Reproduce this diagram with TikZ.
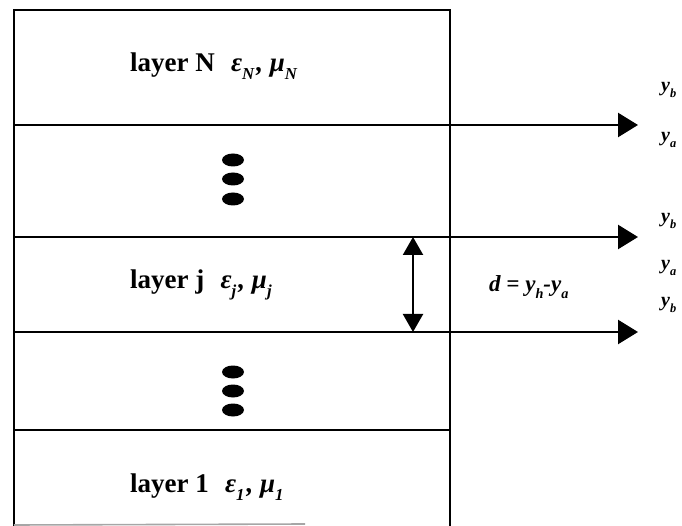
\documentclass[tikz,border=0pt]{standalone}
\usepackage{fontspec}
\setmainfont{Liberation Serif}
\usetikzlibrary{arrows.meta,shapes.geometric}
\newcommand{\lowsub}[1]{\raisebox{-0.28em}{\scalebox{0.62}{#1}}}
\tikzset{
  boxline/.style={line width=2.4pt, line cap=rect},
  levelarrow/.style={line width=2.4pt, -{Triangle[length=20pt,width=24pt]}},
  gaparrow/.style={line width=2.2pt, {Triangle[length=18pt,width=20pt]}-{Triangle[length=18pt,width=20pt]}},
  layertext/.style={anchor=west, inner sep=0pt, font=\fontsize{27}{30}\selectfont\bfseries},
  sidelabel/.style={anchor=west, inner sep=0pt, font=\fontsize{20}{22}\selectfont\bfseries\itshape},
  dot/.style={fill=black, draw=none, ellipse, minimum width=22pt, minimum height=13pt, inner sep=0pt},
}
\begin{document}
\begin{tikzpicture}[x=1pt,y=-1pt]
\useasboundingbox (0,0) rectangle (682,526);
% box corners
\coordinate (tl) at (14,10);
\coordinate (tr) at (450,10);
\coordinate (bl) at (14,525);
\coordinate (br) at (450,526);
\coordinate (bg) at (305,524);
% interface lines
\coordinate (l1) at (14,125);  \coordinate (a1) at (638,125);
\coordinate (l2) at (14,237);  \coordinate (a2) at (638,237);
\coordinate (l3) at (14,332);  \coordinate (a3) at (638,332);
\coordinate (l4) at (14,430);  \coordinate (r4) at (450,430);
\coordinate (d1) at (413,237); \coordinate (d2) at (413,332);

\draw[boxline] (bl) -- (tl) -- (tr) -- (br);
\draw[line width=1.6pt, gray!70] (bl) -- (bg);
\draw[boxline] (l4) -- (r4);
\draw[levelarrow] (l1) -- (a1);
\draw[levelarrow] (l2) -- (a2);
\draw[levelarrow] (l3) -- (a3);
\draw[gaparrow] (d1) -- (d2);

% layer texts
\node[layertext] (tN) at (130,66) {layer N\hspace{0.6em}{\itshape ε\lowsub{N}\kern0.08em, μ\lowsub{N}}};
\node[layertext] (tj) at (130,285) {layer j\hspace{0.6em}{\itshape ε\lowsub{j}\kern0.08em, μ\lowsub{j}}};
\node[layertext] (t1) at (130,487) {layer 1\hspace{0.6em}{\itshape ε\lowsub{1}\kern0.08em, μ\lowsub{1}}};

% dots
\node[dot] (p1) at (233,160) {};
\node[dot] (p2) at (233,179) {};
\node[dot] (p3) at (233,199) {};
\node[dot] (q1) at (233,372) {};
\node[dot] (q2) at (233,391) {};
\node[dot] (q3) at (233,410) {};

% side labels
\node[sidelabel] (s1) at (661,90) {y\lowsub{b}};
\node[sidelabel] (s2) at (661,140) {y\lowsub{a}};
\node[sidelabel] (s3) at (661,221) {y\lowsub{b}};
\node[sidelabel] (s4) at (661,268) {y\lowsub{a}};
\node[sidelabel] (s5) at (661,305) {y\lowsub{b}};

\node[anchor=west, inner sep=0pt, font=\fontsize{23}{26}\selectfont\bfseries\itshape] (dl) at (489,287) {d = y\lowsub{h}-y\lowsub{a}};
\end{tikzpicture}
\end{document}
